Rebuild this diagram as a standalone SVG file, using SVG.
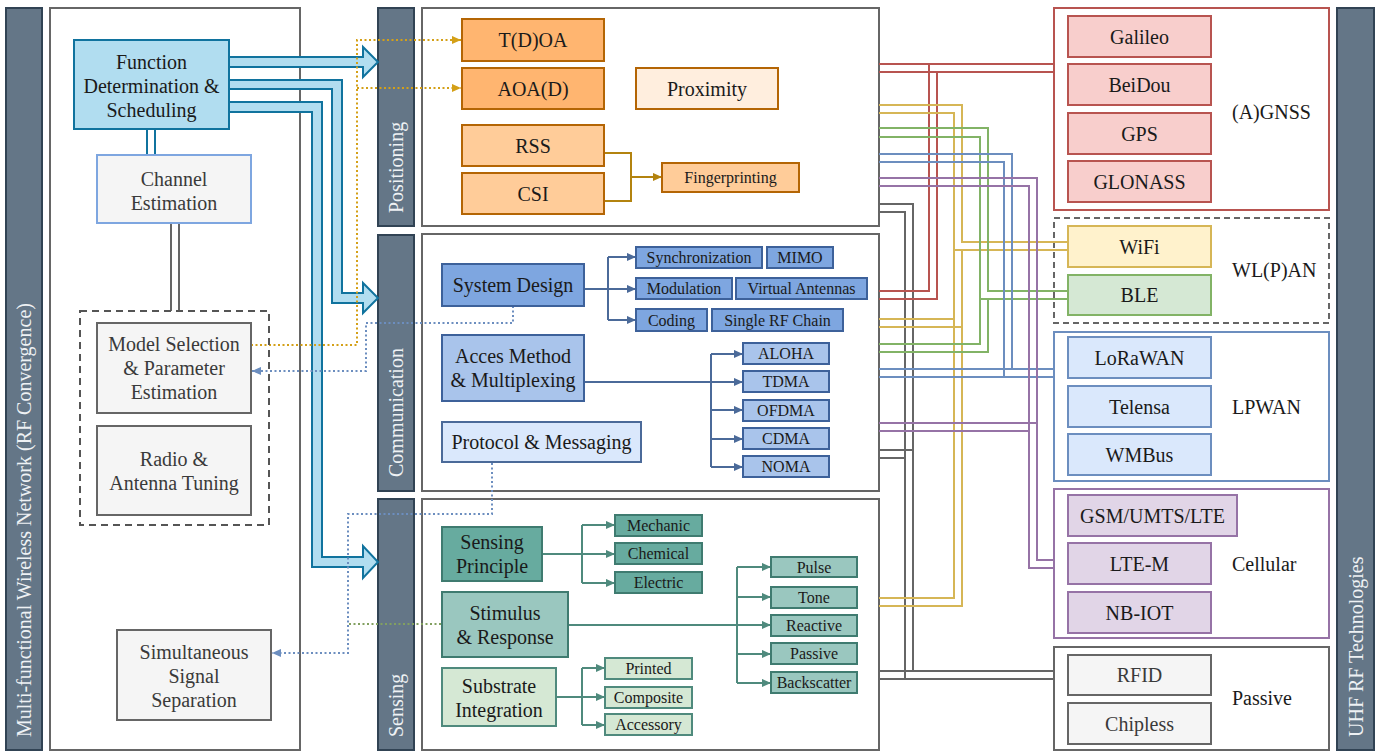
<svg xmlns="http://www.w3.org/2000/svg" width="1388" height="752" viewBox="0 0 1388 752">
<style>
.t{font-family:"Liberation Serif","Times New Roman",serif;fill:#1a1a1a;text-anchor:middle;dominant-baseline:central;font-size:20px}
.s{font-size:16px}
.g{fill:#3a3a3a}
.lbl{text-anchor:start}
.bt{font-family:"Liberation Serif","Times New Roman",serif;fill:#eef1f4;font-size:20px;dominant-baseline:central;text-anchor:start}
.bar{fill:#647687;stroke:#314354;stroke-width:2}
.panel{fill:#fff;stroke:#666;stroke-width:2}
.gray{fill:#f5f5f5;stroke:#666;stroke-width:2}
.or1{fill:#ffb570;stroke:#b46504;stroke-width:2}
.or2{fill:#ffcc99;stroke:#b46504;stroke-width:2}
.or3{fill:#ffeede;stroke:#b46504;stroke-width:2}
.bl1{fill:#7ea6e0;stroke:#3d619a;stroke-width:2}
.bl2{fill:#a9c4eb;stroke:#3d619a;stroke-width:2}
.bl3{fill:#dae8fc;stroke:#4b6a99;stroke-width:2}
.tl1{fill:#67ab9f;stroke:#3f7b70;stroke-width:2}
.tl2{fill:#9ac7bf;stroke:#3f7b70;stroke-width:2}
.tl3{fill:#d5e8d4;stroke:#4f8a7d;stroke-width:2}
.red{fill:#f8cecc;stroke:#b85450;stroke-width:2}
.yel{fill:#fff2cc;stroke:#d6b656;stroke-width:2}
.grn{fill:#d5e8d4;stroke:#82b366;stroke-width:2}
.blu{fill:#dae8fc;stroke:#6c8ebf;stroke-width:2}
.pur{fill:#e1d5e7;stroke:#9673a6;stroke-width:2}
.ln{fill:none;stroke-width:2}
.dot{fill:none;stroke-width:2;stroke-dasharray:2 2.5}
</style>
<defs>
<marker id="mB" viewBox="0 0 10 10" refX="10" refY="5" markerWidth="10" markerHeight="9" markerUnits="userSpaceOnUse" orient="auto"><path d="M0,0.5 L10,5 L0,9.5 z" fill="#4b6a99"/></marker>
<marker id="mT" viewBox="0 0 10 10" refX="10" refY="5" markerWidth="10" markerHeight="9" markerUnits="userSpaceOnUse" orient="auto"><path d="M0,0.5 L10,5 L0,9.5 z" fill="#4f8a7d"/></marker>
<marker id="mO" viewBox="0 0 10 10" refX="10" refY="5" markerWidth="10" markerHeight="9" markerUnits="userSpaceOnUse" orient="auto"><path d="M0,0.5 L10,5 L0,9.5 z" fill="#b3830f"/></marker>
<marker id="mOd" viewBox="0 0 10 10" refX="10" refY="5" markerWidth="9" markerHeight="9" markerUnits="userSpaceOnUse" orient="auto"><path d="M0,0.5 L10,5 L0,9.5 z" fill="#d4a017"/></marker>
<marker id="mBd" viewBox="0 0 10 10" refX="10" refY="5" markerWidth="9" markerHeight="9" markerUnits="userSpaceOnUse" orient="auto"><path d="M0,0.5 L10,5 L0,9.5 z" fill="#6c8ebf"/></marker>
</defs>
<rect width="1388" height="752" fill="#fff"/>

<!-- frames / bars -->
<g id="leftbar"><rect class="bar" x="6" y="8" width="36" height="742"/><text class="bt" transform="translate(24,737) rotate(-90)">Multi-functional Wireless Network (RF Convergence)</text></g>
<g id="leftpanel"><rect class="panel" x="50" y="8" width="250" height="742"/></g>
<g id="bar-positioning"><rect class="bar" x="378" y="8" width="36" height="218"/><text class="bt" transform="translate(396,213) rotate(-90)">Positioning</text></g>
<g id="bar-communication"><rect class="bar" x="378" y="235" width="36" height="256"/><text class="bt" transform="translate(396,477) rotate(-90)">Communication</text></g>
<g id="bar-sensing"><rect class="bar" x="378" y="499" width="36" height="251"/><text class="bt" transform="translate(396,737) rotate(-90)">Sensing</text></g>
<g id="panel-positioning"><rect class="panel" x="422" y="8" width="457" height="218"/></g>
<g id="panel-communication"><rect class="panel" x="422" y="234" width="457" height="257"/></g>
<g id="panel-sensing"><rect class="panel" x="422" y="499" width="457" height="251"/></g>
<g id="bar-uhf"><rect class="bar" x="1337" y="8" width="37" height="742"/><text class="bt" transform="translate(1356,737) rotate(-90)">UHF RF Technologies</text></g>

<!-- right groups -->
<g id="grp-gnss"><rect x="1054" y="8" width="275" height="202" fill="#fff" stroke="#b85450" stroke-width="2"/><text class="t lbl" x="1232" y="112">(A)GNSS</text></g>
<g id="grp-wlpan"><rect x="1054" y="218" width="275" height="105" fill="#fff" stroke="#666" stroke-width="2" stroke-dasharray="6 4"/><text class="t lbl" x="1232" y="270">WL(P)AN</text></g>
<g id="grp-lpwan"><rect x="1054" y="332" width="275" height="149" fill="#fff" stroke="#6c8ebf" stroke-width="2"/><text class="t lbl" x="1232" y="407">LPWAN</text></g>
<g id="grp-cellular"><rect x="1054" y="489" width="275" height="149" fill="#fff" stroke="#9673a6" stroke-width="2"/><text class="t lbl" x="1232" y="564">Cellular</text></g>
<g id="grp-passive"><rect x="1054" y="647" width="275" height="103" fill="#fff" stroke="#666" stroke-width="2"/><text class="t lbl" x="1232" y="698">Passive</text></g>

<!-- connectors -->
<g id="connectors">
 <!-- block arrows -->
 <g fill="#b1ddf0" stroke="#10739e" stroke-width="2" stroke-linejoin="miter">
  <polygon points="229,57 363,57 363,47 378,62 363,77 363,67 229,67"/>
  <polygon points="229,80 342,80 342,293 363,293 363,283 378,298 363,313 363,303 332,303 332,89 229,89"/>
  <polygon points="229,102 322,102 322,557 363,557 363,546 378,562 363,578 363,567 312,567 312,112 229,112"/>
 </g>
 <!-- left double lines -->
 <path class="ln" stroke="#10739e" d="M147,129 V155 M155,129 V155"/>
 <path class="ln" stroke="#666" d="M171,223 V311 M179,223 V311"/>
 <!-- dotted -->
 <path class="dot" stroke="#d4a017" d="M251,345 H357 V40 H461" marker-end="url(#mOd)"/>
 <path class="dot" stroke="#d4a017" d="M357,88 H461" marker-end="url(#mOd)"/>
 <path class="dot" stroke="#6c8ebf" d="M513,306 V323 H366 V371 H252" marker-end="url(#mBd)"/>
 <path class="dot" stroke="#6c8ebf" d="M492,463 V514 H348 V653 H272" marker-end="url(#mBd)"/>
 <path class="dot" stroke="#82a060" d="M441,624 H348"/>
 <!-- positioning internal -->
 <path class="ln" stroke="#b3830f" d="M604,153 H631 V201 H604"/>
 <path class="ln" stroke="#b3830f" d="M631,177 H662" marker-end="url(#mO)"/>
 <!-- communication internal -->
 <path class="ln" stroke="#4b6a99" d="M584,289 H608 M608,257 V320"/>
 <path class="ln" stroke="#4b6a99" d="M608,257 H636" marker-end="url(#mB)"/>
 <path class="ln" stroke="#4b6a99" d="M608,289 H636" marker-end="url(#mB)"/>
 <path class="ln" stroke="#4b6a99" d="M608,320 H636" marker-end="url(#mB)"/>
 <path class="ln" stroke="#4b6a99" d="M584,382 H711 M711,354 V467"/>
 <path class="ln" stroke="#4b6a99" d="M711,354 H743" marker-end="url(#mB)"/>
 <path class="ln" stroke="#4b6a99" d="M711,382 H743" marker-end="url(#mB)"/>
 <path class="ln" stroke="#4b6a99" d="M711,410 H743" marker-end="url(#mB)"/>
 <path class="ln" stroke="#4b6a99" d="M711,439 H743" marker-end="url(#mB)"/>
 <path class="ln" stroke="#4b6a99" d="M711,467 H743" marker-end="url(#mB)"/>
 <!-- sensing internal -->
 <path class="ln" stroke="#4f8a7d" d="M542,554 H582 M582,525 V583"/>
 <path class="ln" stroke="#4f8a7d" d="M582,525 H615" marker-end="url(#mT)"/>
 <path class="ln" stroke="#4f8a7d" d="M582,554 H615" marker-end="url(#mT)"/>
 <path class="ln" stroke="#4f8a7d" d="M582,583 H615" marker-end="url(#mT)"/>
 <path class="ln" stroke="#4f8a7d" d="M568,625 H737 M737,567 V683"/>
 <path class="ln" stroke="#4f8a7d" d="M737,567 H771" marker-end="url(#mT)"/>
 <path class="ln" stroke="#4f8a7d" d="M737,597 H771" marker-end="url(#mT)"/>
 <path class="ln" stroke="#4f8a7d" d="M737,625 H771" marker-end="url(#mT)"/>
 <path class="ln" stroke="#4f8a7d" d="M737,654 H771" marker-end="url(#mT)"/>
 <path class="ln" stroke="#4f8a7d" d="M737,683 H771" marker-end="url(#mT)"/>
 <path class="ln" stroke="#4f8a7d" d="M556,697 H582 M582,668 V725"/>
 <path class="ln" stroke="#4f8a7d" d="M582,668 H605" marker-end="url(#mT)"/>
 <path class="ln" stroke="#4f8a7d" d="M582,697 H605" marker-end="url(#mT)"/>
 <path class="ln" stroke="#4f8a7d" d="M582,725 H605" marker-end="url(#mT)"/>
 <!-- technology links -->
 <g class="ln" stroke="#666">
  <path d="M879,204 H913 V671 H1054"/><path d="M879,212 H905 V679 H1054"/>
  <path d="M879,450 H913 V671"/><path d="M879,458 H905 V679"/>
  <path d="M879,671 H1054"/><path d="M879,679 H1054"/>
 </g>
 <g class="ln" stroke="#b85450">
  <path d="M879,64 H1054"/><path d="M879,72 H1054"/>
  <path d="M879,291 H929 V64"/><path d="M879,299 H937 V72"/>
 </g>
 <g class="ln" stroke="#d6b656">
  <path d="M879,105 H962 V242 H1068"/><path d="M879,113 H954 V250 H1068"/>
  <path d="M879,319 H954 V242"/><path d="M879,327 H962 V250"/>
  <path d="M879,598 H954 V242"/><path d="M879,606 H962 V250"/>
 </g>
 <g class="ln" stroke="#82b366">
  <path d="M879,128 H988 V291 H1068"/><path d="M879,137 H980 V299 H1068"/>
  <path d="M879,344 H980 V291"/><path d="M879,352 H988 V299"/>
 </g>
 <g class="ln" stroke="#6c8ebf">
  <path d="M879,154 H1012 V369 H1054"/><path d="M879,162 H1004 V377 H1054"/>
  <path d="M879,369 H1054"/><path d="M879,377 H1054"/>
 </g>
 <g class="ln" stroke="#9673a6">
  <path d="M879,178 H1037 V560 H1054"/><path d="M879,186 H1029 V568 H1054"/>
  <path d="M879,423 H1037 V560"/><path d="M879,431 H1029 V568"/>
 </g>
</g>

<!-- left nodes -->
<g id="n-function"><rect x="74" y="40" width="155" height="89" fill="#b1ddf0" stroke="#10739e" stroke-width="2"/><text class="t" x="151.5" y="62">Function</text><text class="t" x="151.5" y="86">Determination &amp;</text><text class="t" x="151.5" y="110">Scheduling</text></g>
<g id="n-channel"><rect x="97" y="155" width="154" height="68" fill="#f5f5f5" stroke="#7ea6e0" stroke-width="2"/><text class="t g" x="174" y="179">Channel</text><text class="t g" x="174" y="203">Estimation</text></g>
<g id="n-dashed"><rect x="80" y="311" width="189" height="214" fill="none" stroke="#555" stroke-width="2" stroke-dasharray="7 5"/></g>
<g id="n-model"><rect class="gray" x="97" y="323" width="154" height="90"/><text class="t g" x="174" y="344">Model Selection</text><text class="t g" x="174" y="368">&amp; Parameter</text><text class="t g" x="174" y="392">Estimation</text></g>
<g id="n-radio"><rect class="gray" x="97" y="426" width="154" height="89"/><text class="t g" x="174" y="459">Radio &amp;</text><text class="t g" x="174" y="483">Antenna Tuning</text></g>
<g id="n-sss"><rect class="gray" x="117" y="630" width="154" height="90"/><text class="t g" x="194" y="652">Simultaneous</text><text class="t g" x="194" y="676">Signal</text><text class="t g" x="194" y="700">Separation</text></g>

<!-- positioning -->
<g id="n-tdoa"><rect class="or1" x="462" y="19" width="142" height="42"/><text class="t" x="533" y="40">T(D)OA</text></g>
<g id="n-aoa"><rect class="or1" x="462" y="68" width="142" height="41"/><text class="t" x="533" y="89">AOA(D)</text></g>
<g id="n-proximity"><rect class="or3" x="636" y="68" width="142" height="41"/><text class="t" x="707" y="89">Proximity</text></g>
<g id="n-rss"><rect class="or2" x="462" y="125" width="142" height="41"/><text class="t" x="533" y="146">RSS</text></g>
<g id="n-csi"><rect class="or2" x="462" y="173" width="142" height="41"/><text class="t" x="533" y="194">CSI</text></g>
<g id="n-finger"><rect class="or2" x="662" y="163" width="137" height="29"/><text class="t s" x="730.5" y="177.5">Fingerprinting</text></g>

<!-- communication -->
<g id="n-sysdesign"><rect class="bl1" x="442" y="264" width="142" height="42"/><text class="t" x="513" y="285">System Design</text></g>
<g id="n-sync"><rect class="bl1" x="636" y="247" width="126" height="21"/><text class="t s" x="699" y="257.5">Synchronization</text></g>
<g id="n-mimo"><rect class="bl1" x="767" y="247" width="66" height="21"/><text class="t s" x="800" y="257.5">MIMO</text></g>
<g id="n-modulation"><rect class="bl1" x="636" y="278" width="96" height="21"/><text class="t s" x="684" y="288.5">Modulation</text></g>
<g id="n-virtual"><rect class="bl1" x="736" y="278" width="131" height="21"/><text class="t s" x="801.5" y="288.5">Virtual Antennas</text></g>
<g id="n-coding"><rect class="bl1" x="636" y="309" width="71" height="22"/><text class="t s" x="671.5" y="320">Coding</text></g>
<g id="n-singlerf"><rect class="bl1" x="712" y="309" width="131" height="22"/><text class="t s" x="777.5" y="320">Single RF Chain</text></g>
<g id="n-access"><rect class="bl2" x="442" y="335" width="142" height="66"/><text class="t" x="513" y="356">Acces Method</text><text class="t" x="513" y="380">&amp; Multiplexing</text></g>
<g id="n-protocol"><rect class="bl3" x="442" y="422" width="199" height="40"/><text class="t" x="541.5" y="442">Protocol &amp; Messaging</text></g>
<g id="n-aloha"><rect class="bl2" x="743" y="343" width="86" height="21"/><text class="t s" x="786" y="353.5">ALOHA</text></g>
<g id="n-tdma"><rect class="bl2" x="743" y="371" width="86" height="21"/><text class="t s" x="786" y="381.5">TDMA</text></g>
<g id="n-ofdma"><rect class="bl2" x="743" y="400" width="86" height="21"/><text class="t s" x="786" y="410.5">OFDMA</text></g>
<g id="n-cdma"><rect class="bl2" x="743" y="428" width="86" height="21"/><text class="t s" x="786" y="438.5">CDMA</text></g>
<g id="n-noma"><rect class="bl2" x="743" y="456" width="86" height="21"/><text class="t s" x="786" y="466.5">NOMA</text></g>

<!-- sensing -->
<g id="n-sprinciple"><rect class="tl1" x="442" y="527" width="100" height="54"/><text class="t" x="492" y="542">Sensing</text><text class="t" x="492" y="566">Principle</text></g>
<g id="n-mechanic"><rect class="tl1" x="615" y="515" width="87" height="21"/><text class="t s" x="658.5" y="525.5">Mechanic</text></g>
<g id="n-chemical"><rect class="tl1" x="615" y="543" width="87" height="21"/><text class="t s" x="658.5" y="553.5">Chemical</text></g>
<g id="n-electric"><rect class="tl1" x="615" y="572" width="87" height="21"/><text class="t s" x="658.5" y="582.5">Electric</text></g>
<g id="n-stimulus"><rect class="tl2" x="442" y="592" width="126" height="65"/><text class="t" x="505" y="613">Stimulus</text><text class="t" x="505" y="637">&amp; Response</text></g>
<g id="n-pulse"><rect class="tl2" x="771" y="557" width="86" height="20"/><text class="t s" x="814" y="567">Pulse</text></g>
<g id="n-tone"><rect class="tl2" x="771" y="587" width="86" height="21"/><text class="t s" x="814" y="597.5">Tone</text></g>
<g id="n-reactive"><rect class="tl2" x="771" y="615" width="86" height="21"/><text class="t s" x="814" y="625.5">Reactive</text></g>
<g id="n-passive-s"><rect class="tl2" x="771" y="643" width="86" height="21"/><text class="t s" x="814" y="653.5">Passive</text></g>
<g id="n-backscatter"><rect class="tl2" x="771" y="672" width="86" height="21"/><text class="t s" x="814" y="682.5">Backscatter</text></g>
<g id="n-substrate"><rect class="tl3" x="442" y="668" width="114" height="58"/><text class="t" x="499" y="686">Substrate</text><text class="t" x="499" y="710">Integration</text></g>
<g id="n-printed"><rect class="tl3" x="605" y="658" width="87" height="21"/><text class="t s" x="648.5" y="668.5">Printed</text></g>
<g id="n-composite"><rect class="tl3" x="605" y="687" width="87" height="21"/><text class="t s" x="648.5" y="697.5">Composite</text></g>
<g id="n-accessory"><rect class="tl3" x="605" y="714" width="87" height="21"/><text class="t s" x="648.5" y="724.5">Accessory</text></g>

<!-- technologies -->
<g id="n-galileo"><rect class="red" x="1068" y="16" width="143" height="41"/><text class="t" x="1139.5" y="37">Galileo</text></g>
<g id="n-beidou"><rect class="red" x="1068" y="64" width="143" height="41"/><text class="t" x="1139.5" y="85">BeiDou</text></g>
<g id="n-gps"><rect class="red" x="1068" y="113" width="143" height="41"/><text class="t" x="1139.5" y="134">GPS</text></g>
<g id="n-glonass"><rect class="red" x="1068" y="161" width="143" height="41"/><text class="t" x="1139.5" y="182">GLONASS</text></g>
<g id="n-wifi"><rect class="yel" x="1068" y="226" width="143" height="41"/><text class="t" x="1139.5" y="247">WiFi</text></g>
<g id="n-ble"><rect class="grn" x="1068" y="275" width="143" height="40"/><text class="t" x="1139.5" y="295">BLE</text></g>
<g id="n-lorawan"><rect class="blu" x="1068" y="337" width="143" height="41"/><text class="t" x="1139.5" y="358">LoRaWAN</text></g>
<g id="n-telensa"><rect class="blu" x="1068" y="386" width="143" height="41"/><text class="t" x="1139.5" y="407">Telensa</text></g>
<g id="n-wmbus"><rect class="blu" x="1068" y="434" width="143" height="41"/><text class="t" x="1139.5" y="455">WMBus</text></g>
<g id="n-gsm"><rect class="pur" x="1068" y="495" width="169" height="41"/><text class="t" x="1152.5" y="516">GSM/UMTS/LTE</text></g>
<g id="n-ltem"><rect class="pur" x="1068" y="543" width="143" height="41"/><text class="t" x="1139.5" y="564">LTE-M</text></g>
<g id="n-nbiot"><rect class="pur" x="1068" y="592" width="143" height="41"/><text class="t" x="1139.5" y="613">NB-IOT</text></g>
<g id="n-rfid"><rect class="gray" x="1068" y="655" width="143" height="40"/><text class="t g" x="1139.5" y="675">RFID</text></g>
<g id="n-chipless"><rect class="gray" x="1068" y="703" width="143" height="41"/><text class="t g" x="1139.5" y="724">Chipless</text></g>
</svg>
